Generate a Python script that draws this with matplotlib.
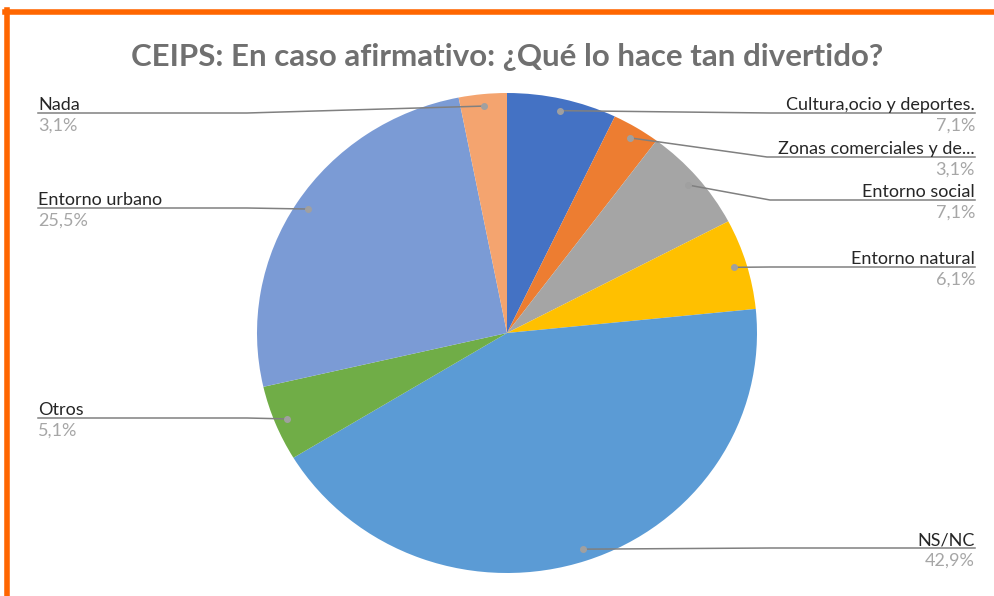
import matplotlib.pyplot as plt
from matplotlib.lines import Line2D
import numpy as np

plt.rcParams['font.family'] = ['Lato', 'DejaVu Sans']

categories = ["Cultura,ocio y deportes.", "Zonas comerciales y de...", "Entorno social",
              "Entorno natural", "NS/NC", "Otros", "Entorno urbano", "Nada"]
values = [7.1, 3.1, 7.1, 6.1, 42.9, 5.1, 25.5, 3.1]
pct_labels = ["7,1%", "3,1%", "7,1%", "6,1%", "42,9%", "5,1%", "25,5%", "3,1%"]
colors = ["#4472C4", "#ED7D31", "#A5A5A5", "#FFC000", "#5B9BD5", "#70AD47", "#7B9BD5", "#F4A46F"]

# label layout in pixels: (text x, line y, elbow x, side)
label_pos = [(975, 113, 770, "r"), (975, 157, 767, "r"), (975, 200, 770, "r"),
             (975, 267, 770, "r"), (975, 548, 770, "r"), (38, 418, 247, "l"),
             (38, 208, 247, "l"), (38, 113, 247, "l")]

W, H = 995, 596
CX, CY, RX, RY = 507, 333, 250, 240

fig = plt.figure(figsize=(W / 100, H / 100), dpi=100)
ax = fig.add_axes([0, 0, 1, 1])
wedges, _ = ax.pie(values, colors=colors, startangle=90, counterclock=False,
                   radius=1, wedgeprops=dict(linewidth=0))
ax.set_aspect('auto')
ax.set_xlim(-CX / RX, (W - CX) / RX)
ax.set_ylim((CY - H) / RY, CY / RY)


def px(x, y):
    return (x - CX) / RX, (CY - y) / RY


for w, name, pct, (tx, ly, ex, side) in zip(wedges, categories, pct_labels, label_pos):
    mid = np.deg2rad((w.theta1 + w.theta2) / 2)
    dx, dy = 0.95 * np.cos(mid), 0.95 * np.sin(mid)
    x1, y1 = px(ex, ly)
    x2, y2 = px(tx, ly)
    ax.plot([dx, x1, x2], [dy, y1, y2], color="#808080", lw=1.1, zorder=3)
    ax.plot(dx, dy, 'o', color="#A0A0A0", ms=4, zorder=4)
    ha = "right" if side == "r" else "left"
    nx, ny = px(tx, ly - 3)
    ax.text(nx, ny, name, ha=ha, va="baseline", fontsize=13, color="#262626")
    qx, qy = px(tx, ly + 5)
    ax.text(qx, qy, pct, ha=ha, va="top", fontsize=13, color="#A6A6A6")

fig.text(507 / W, 1 - 57 / H, "CEIPS: En caso afirmativo: ¿Qué lo hace tan divertido?",
         ha="center", va="center", fontsize=22.5, fontweight="bold", color="#707070")

# orange frame (top and left edges visible)
fig.add_artist(Line2D([5 / W, 1], [1 - 12 / H, 1 - 12 / H], color="#FF6600", lw=4,
                      transform=fig.transFigure))
fig.add_artist(Line2D([7.5 / W, 7.5 / W], [1 - 10 / H, 0], color="#FF6600", lw=4,
                      transform=fig.transFigure))

fig.savefig("out.png", dpi=100)
